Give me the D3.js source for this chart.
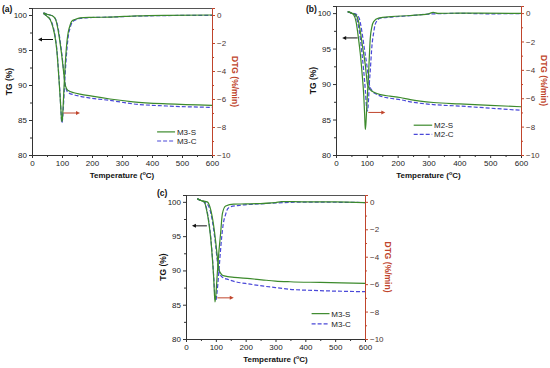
<!DOCTYPE html>
<html>
<head>
<meta charset="utf-8">
<script src="https://cdn.jsdelivr.net/npm/d3@7"></script>
<style>
body { margin: 0; background: #fff; }
text { font-family: "Liberation Sans", Arial, sans-serif; }
</style>
</head>
<body>
<script>
// tick values
var tempTicks = [0, 100, 200, 300, 400, 500, 600];
var tempMinor = [50, 150, 250, 350, 450, 550];
var tgTicks = [80, 85, 90, 95, 100];
var tgMinor = [82.5, 87.5, 92.5, 97.5];
var dtgTicks = [-10, -8, -6, -4, -2, 0];
var dtgMinor = [-9, -7, -5, -3, -1];

// panel (a): [temperature, value]
var a_tg_S = [[38,100.3],[50,100.1],[60,100.0],[71,99.8],[80,99.2],[88,97.6],[95,95.6],[99,94.3],[105,92.0],[110,90.2],[115,89.5],[121,89.2],[140,88.9],[160,88.7],[200,88.4],[260,88.0],[337,87.6],[450,87.3],[600,87.1]];
var a_tg_C = [[38,100.3],[50,100.1],[60,100.0],[71,99.8],[80,99.3],[88,97.9],[95,95.9],[99,94.6],[105,92.2],[110,90.2],[115,89.3],[121,88.9],[140,88.6],[160,88.4],[200,88.1],[260,87.8],[337,87.3],[450,87.0],[600,86.8]];
var a_dtg_S = [[38,0.1],[45,0.0],[50,-0.1],[60,-0.3],[70,-0.9],[77,-1.6],[83,-2.6],[88,-4.0],[93,-5.6],[97,-7.0],[99,-7.6],[101,-7.5],[104,-6.4],[108,-4.6],[113,-2.8],[117,-1.8],[121,-1.2],[126,-0.8],[132,-0.45],[145,-0.3],[160,-0.2],[200,-0.17],[260,-0.15],[350,-0.06],[450,-0.02],[600,0.0]];
var a_dtg_C = [[38,0.1],[45,0.0],[50,-0.1],[60,-0.3],[70,-0.8],[77,-1.5],[83,-2.5],[88,-3.9],[93,-5.5],[97,-7.0],[99,-7.7],[101,-7.6],[104,-6.8],[108,-5.2],[113,-3.4],[117,-2.3],[121,-1.5],[126,-1.0],[132,-0.6],[145,-0.35],[160,-0.25],[200,-0.18],[260,-0.15],[350,-0.08],[450,-0.04],[600,-0.02]];

// panel (b)
var b_tg_S = [[38,100.2],[50,100.0],[63,99.8],[72,99.0],[79,97.4],[87,95.0],[95,92.7],[102,90.0],[111,89.2],[125,88.8],[144,88.5],[175,88.3],[208,88.1],[241,87.8],[316,87.4],[400,87.2],[500,87.0],[600,86.8]];
var b_tg_C = [[38,100.2],[50,100.0],[63,99.9],[75,99.3],[84,97.4],[92,95.0],[100,92.7],[108,90.0],[118,89.0],[130,88.6],[144,88.3],[175,88.0],[208,87.8],[241,87.5],[316,87.1],[400,86.9],[500,86.6],[600,86.3]];
var b_dtg_S = [[38,0.1],[50,0.0],[57,-0.1],[65,-0.6],[73,-1.8],[79,-2.9],[84,-4.1],[90,-5.8],[93,-7.2],[95,-8.2],[97,-7.8],[100,-6.5],[103,-5.3],[106,-4.1],[111,-1.8],[116,-1.0],[122,-0.6],[138,-0.35],[180,-0.25],[241,-0.17],[300,-0.05],[315,0.05],[330,-0.02],[400,0.0],[600,-0.02]];
var b_dtg_C = [[38,0.1],[50,0.0],[60,-0.1],[70,-0.6],[79,-1.8],[85,-3.0],[90,-4.1],[95,-5.4],[99,-6.6],[102,-6.9],[105,-6.3],[108,-5.0],[111,-4.1],[117,-2.2],[122,-1.4],[127,-0.8],[135,-0.5],[143,-0.35],[180,-0.28],[241,-0.18],[300,-0.07],[400,-0.02],[500,-0.05],[600,-0.03]];

// panel (c)
var c_tg_S = [[38,100.5],[50,100.2],[60,100.1],[71,100.0],[80,99.3],[88,97.8],[95,95.8],[99,94.4],[105,92.0],[110,90.2],[116,89.6],[122,89.3],[140,89.1],[161,89.0],[215,88.8],[261,88.6],[300,88.45],[349,88.35],[450,88.25],[600,88.1]];
var c_tg_C = [[38,100.5],[50,100.2],[60,100.0],[71,99.7],[80,98.9],[88,97.3],[95,95.2],[99,93.8],[105,91.4],[110,90.0],[116,89.3],[122,89.0],[140,88.7],[161,88.4],[215,88.0],[261,87.7],[300,87.5],[349,87.25],[450,87.05],[600,86.9]];
var c_dtg_S = [[38,0.2],[50,0.1],[61,0.0],[70,-0.7],[77,-1.6],[83,-2.7],[88,-4.0],[93,-5.6],[97,-7.3],[100,-6.8],[105,-5.2],[110,-3.7],[116,-2.3],[122,-0.85],[133,-0.3],[160,-0.17],[200,-0.15],[300,-0.05],[320,0.02],[400,0.0],[500,0.0],[600,-0.05]];
var c_dtg_C = [[38,0.2],[50,0.1],[61,0.0],[70,-0.6],[77,-1.5],[83,-2.6],[88,-3.9],[93,-5.5],[97,-6.9],[100,-7.2],[104,-6.6],[109,-5.4],[114,-4.0],[120,-2.5],[125,-1.6],[133,-0.9],[140,-0.5],[150,-0.35],[180,-0.25],[250,-0.15],[300,-0.08],[400,-0.02],[600,-0.05]];

var w = 550, h = 368;
var green = "#3c8a2c", blue = "#4a48d8", red = "#c0452c";

var svg = d3.select("body").append("svg")
    .attr("width", w)
    .attr("height", h);

var panels = [
    {tag: "(a)", left: 32, right: 212, top: 8, bottom: 155, tagX: 2, tagY: 12,
     names: ["M3-S", "M3-C"], tg: [a_tg_S, a_tg_C], dtg: [a_dtg_S, a_dtg_C], legT: 417, legTG: [83.3, 82.0]},
    {tag: "(b)", left: 336, right: 521, top: 6, bottom: 155, tagX: 306, tagY: 12,
     names: ["M2-S", "M2-C"], tg: [b_tg_S, b_tg_C], dtg: [b_dtg_S, b_dtg_C], legT: 252, legTG: [84.2, 82.9]},
    {tag: "(c)", left: 186, right: 365, top: 195, bottom: 339, tagX: 157, tagY: 196,
     names: ["M3-S", "M3-C"], tg: [c_tg_S, c_tg_C], dtg: [c_dtg_S, c_dtg_C], legT: 421, legTG: [83.7, 82.2]}
];

panels.forEach(drawPanel);

function drawPanel(p) {
    var pw = p.right - p.left, ph = p.bottom - p.top;
    var g = svg.append("g").attr("transform", "translate(" + p.left + "," + p.top + ")");

    var x = d3.scaleLinear().domain([0, 600]).range([0, pw]);
    var y = d3.scaleLinear().domain([80, 101]).range([ph, 0]);
    var y2 = d3.scaleLinear().domain([-10, 0.5]).range([ph, 0]);

    // frame top
    g.append("line").attr("x1", 0).attr("x2", pw).attr("y1", 0.5).attr("y2", 0.5)
        .attr("stroke", "#555").attr("stroke-width", 1);

    // bottom axis
    var xa = g.append("g").attr("transform", "translate(0," + ph + ")")
        .call(d3.axisBottom(x).tickValues(tempTicks).tickSize(3).tickPadding(2));
    g.append("g").attr("transform", "translate(0," + ph + ")")
        .call(d3.axisBottom(x).tickValues(tempMinor).tickSize(2).tickFormat(""));

    // left axis
    g.append("g").call(d3.axisLeft(y).tickValues(tgTicks).tickSize(3).tickPadding(2));
    g.append("g").call(d3.axisLeft(y).tickValues(tgMinor).tickSize(2).tickFormat(""));

    // right axis
    var ra = g.append("g").attr("class", "right").attr("transform", "translate(" + pw + ",0)")
        .call(d3.axisRight(y2).tickValues(dtgTicks).tickSize(3).tickPadding(2));
    var rm = g.append("g").attr("class", "right").attr("transform", "translate(" + pw + ",0)")
        .call(d3.axisRight(y2).tickValues(dtgMinor).tickSize(2).tickFormat(""));

    g.selectAll(".domain").attr("stroke", "#333");
    g.selectAll(".tick line").attr("stroke", "#333");
    g.selectAll(".right .domain, .right .tick line").attr("stroke", red);
    g.selectAll(".tick text").attr("font-size", 8).attr("fill", "#222")
        .attr("font-family", "'Liberation Sans', Arial, sans-serif");
    ra.selectAll(".tick text").attr("fill", "#4a3430");

    // curves
    var tgLine = d3.line().x(function(d) { return x(d[0]); }).y(function(d) { return y(d[1]); })
        .curve(d3.curveMonotoneX);
    var dtgLine = d3.line().x(function(d) { return x(d[0]); }).y(function(d) { return y2(d[1]); })
        .curve(d3.curveMonotoneX);
    var styles = [{c: green, dash: null}, {c: blue, dash: "4,2"}];

    [1, 0].forEach(function(i) {
        g.append("path").datum(p.dtg[i]).attr("d", dtgLine)
            .attr("fill", "none").attr("stroke", styles[i].c).attr("stroke-width", 1.2)
            .attr("stroke-dasharray", styles[i].dash);
        g.append("path").datum(p.tg[i]).attr("d", tgLine)
            .attr("fill", "none").attr("stroke", styles[i].c).attr("stroke-width", 1.2)
            .attr("stroke-dasharray", styles[i].dash);
    });

    // arrows
    arrow(g, x(70), x(20), y(96.5), "#111");
    arrow(g, x(105), x(160), y2(-7), red);

    // legend
    p.names.forEach(function(n, i) {
        var ly = y(p.legTG[i]);
        g.append("line").attr("x1", x(p.legT)).attr("x2", x(p.legT + 60))
            .attr("y1", ly).attr("y2", ly)
            .attr("stroke", styles[i].c).attr("stroke-width", 1.2)
            .attr("stroke-dasharray", styles[i].dash);
        g.append("text").attr("x", x(p.legT + 66)).attr("y", ly + 3)
            .attr("font-size", 8).attr("fill", "#222").text(n);
    });

    // axis titles
    var xt = g.append("text").attr("x", pw / 2).attr("y", ph + 23)
        .attr("text-anchor", "middle").attr("font-size", 8).attr("font-weight", "bold")
        .attr("fill", "#111");
    xt.append("tspan").text("Temperature (");
    xt.append("tspan").attr("font-size", 5.5).attr("dy", -3).text("o");
    xt.append("tspan").attr("dy", 3).text("C)");

    g.append("text").attr("transform", "translate(-20," + (ph / 2) + ") rotate(-90)")
        .attr("text-anchor", "middle").attr("font-size", 8.5).attr("font-weight", "bold")
        .attr("font-family", "'Liberation Serif', 'Times New Roman', serif")
        .attr("fill", "#111").text("TG (%)");

    g.append("text").attr("transform", "translate(" + (pw + 20) + "," + (ph / 2) + ") rotate(90)")
        .attr("text-anchor", "middle").attr("font-size", 8.5).attr("font-weight", "bold")
        .attr("font-family", "'Liberation Serif', 'Times New Roman', serif")
        .attr("fill", red).text("DTG (%/min)");

    svg.append("text").attr("x", p.tagX).attr("y", p.tagY)
        .attr("font-size", 8.5).attr("font-weight", "bold").attr("fill", "#111").text(p.tag);
}

function arrow(g, x1, x2, yy, col) {
    var dir = x2 > x1 ? 1 : -1;
    g.append("line").attr("x1", x1).attr("x2", x2 - dir * 3).attr("y1", yy).attr("y2", yy)
        .attr("stroke", col).attr("stroke-width", 1);
    g.append("path")
        .attr("d", "M" + x2 + "," + yy + "L" + (x2 - dir * 4) + "," + (yy - 2) + "L" + (x2 - dir * 4) + "," + (yy + 2) + "Z")
        .attr("fill", col);
}
</script>
</body>
</html>
